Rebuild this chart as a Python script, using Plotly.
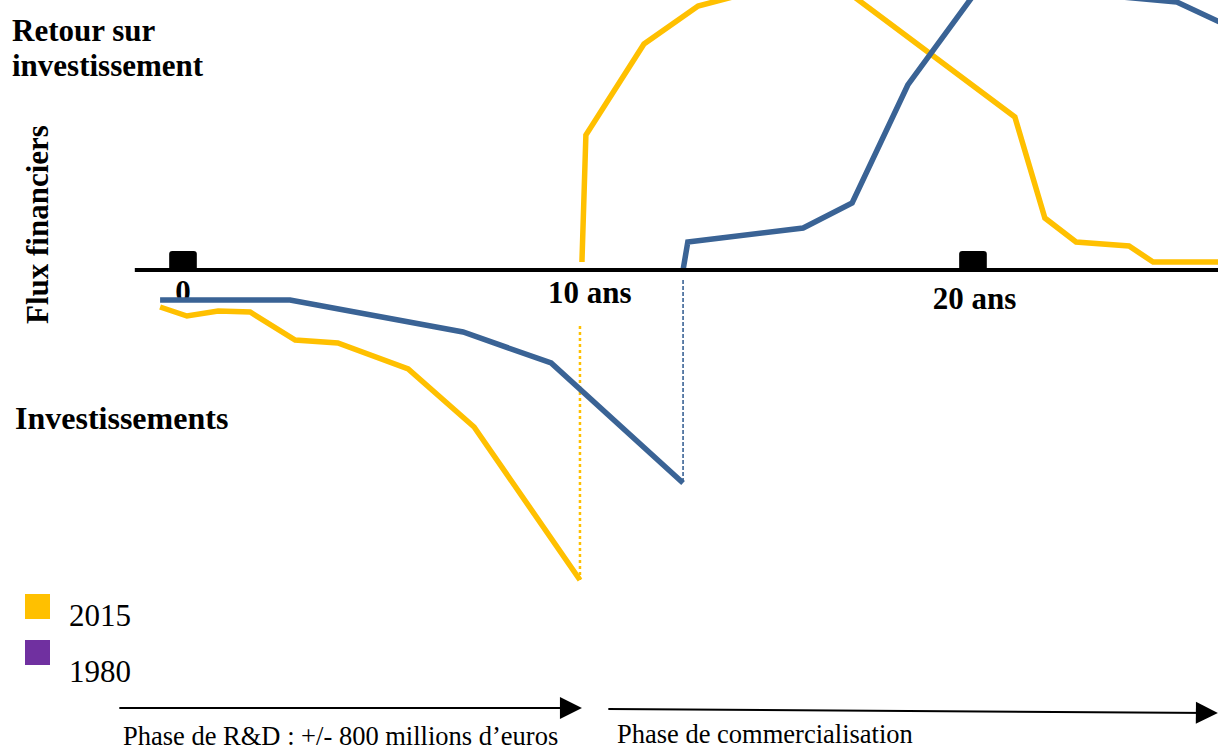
import plotly.graph_objects as go

# ---------------- data (years, financial flux in arbitrary units) ----------------
years_2015_rd = [-0.58, 0.10, 0.89, 1.70, 2.84, 3.92, 5.70, 7.37, 10.05]
flux_2015_rd = [-3.7, -4.6, -4.1, -4.2, -7.0, -7.3, -9.9, -15.7, -31.0]

years_2015_com = [10.10, 10.20, 11.67, 13.04, 15.37, 16.76, 21.06, 21.82, 22.61, 23.95, 24.56, 26.51]
flux_2015_com = [0.8, 13.5, 22.6, 26.4, 28.8, 28.0, 15.3, 5.2, 2.8, 2.4, 0.8, 0.8]

years_1980_rd = [-0.58, 2.71, 7.09, 9.32, 12.66]
flux_1980_rd = [-3.0, -3.0, -6.2, -9.3, -21.3]

years_1980_com = [12.66, 12.78, 15.70, 16.94, 18.35, 20.48, 23.22, 25.16, 26.51]
flux_1980_com = [0.0, 2.8, 4.2, 6.7, 18.5, 30.0, 27.5, 26.8, 24.3]

launch_2015_year = 10.05
launch_2015_flux = [-5.6, -31.0]
launch_1980_year = 12.66
launch_1980_flux = [-1.0, -21.3]

tick_mark_years = [0, 20]
tick_label_years = [0, 10.30, 20.04]
tick_label_flux = [-2.4, -2.5, -3.1]
tick_labels = ["0", "10 ans", "20 ans"]

legend_labels = ["2015", "1980"]
legend_colors = ["#FFC000", "#7030A0"]

# ---------------- styling ----------------
W, H = 1218, 751
X_RANGE = [-4.633, 26.203]
Y_RANGE = [-48.1, 27.0]
YELLOW = "#FFC000"
BLUE = "#3A6395"
SERIF = "Liberation Serif, Times New Roman, serif"


def pxx(x):
    return x / W


def pxy(y):
    return 1 - y / H


fig = go.Figure()

# tick labels first so the curves are drawn over them
fig.add_trace(go.Scatter(
    x=tick_label_years, y=tick_label_flux, text=tick_labels, mode="text",
    textposition="middle center",
    textfont=dict(family=SERIF, size=31, color="black", weight="bold"),
    hoverinfo="skip", showlegend=False))

fig.add_trace(go.Scatter(
    x=[launch_2015_year] * 2, y=launch_2015_flux, mode="lines",
    line=dict(color=YELLOW, width=2.5, dash="dot"), showlegend=False))
fig.add_trace(go.Scatter(
    x=[launch_1980_year] * 2, y=launch_1980_flux, mode="lines",
    line=dict(color=BLUE, width=1.6, dash="4px,2px"), showlegend=False))

for xs, ys, col in [(years_2015_rd, flux_2015_rd, YELLOW),
                    (years_2015_com, flux_2015_com, YELLOW),
                    (years_1980_rd, flux_1980_rd, BLUE),
                    (years_1980_com, flux_1980_com, BLUE)]:
    fig.add_trace(go.Scatter(x=xs, y=ys, mode="lines",
                             line=dict(color=col, width=5.5),
                             showlegend=False, hoverinfo="skip"))

shapes = []
# time axis
shapes.append(dict(type="line", xref="x", yref="y", x0=-1.22, x1=26.4, y0=0, y1=0,
                   line=dict(color="black", width=4), layer="above"))
# tick marks (rounded black blocks)
for t in tick_mark_years:
    x0, x1, y0, y1 = t - 0.35, t + 0.35, 0, 1.9
    rx, ry = 0.08, 0.3
    path = (f"M {x0},{y0} L {x0},{y1-ry} Q {x0},{y1} {x0+rx},{y1} "
            f"L {x1-rx},{y1} Q {x1},{y1} {x1},{y1-ry} L {x1},{y0} Z")
    shapes.append(dict(type="path", xref="x", yref="y", path=path,
                       fillcolor="black", line=dict(color="black", width=0), layer="above"))
# legend squares
for i, c in enumerate(legend_colors):
    top = 594 + i * 46
    shapes.append(dict(type="rect", xref="paper", yref="paper",
                       x0=pxx(25), x1=pxx(50), y0=pxy(top + 25), y1=pxy(top),
                       fillcolor=c, line=dict(width=0)))

annotations = []
bold = dict(family=SERIF, size=31, color="black", weight="bold")
annotations.append(dict(text="Retour sur", x=pxx(10), y=pxy(31), xref="paper", yref="paper",
                        xanchor="left", yanchor="middle", showarrow=False, font=bold))
annotations.append(dict(text="investissement", x=pxx(10), y=pxy(66), xref="paper", yref="paper",
                        xanchor="left", yanchor="middle", showarrow=False, font=bold))
annotations.append(dict(text="Investissements", x=pxx(13), y=pxy(418), xref="paper", yref="paper",
                        xanchor="left", yanchor="middle", showarrow=False,
                        font=dict(family=SERIF, size=32, color="black", weight="bold")))
annotations.append(dict(text="Flux financiers", x=pxx(37), y=pxy(225), xref="paper", yref="paper",
                        xanchor="center", yanchor="middle", textangle=-90, showarrow=False, font=bold))
# legend labels
for i, lab in enumerate(legend_labels):
    annotations.append(dict(text=lab, x=pxx(67), y=pxy(615 + i * 56), xref="paper", yref="paper",
                            xanchor="left", yanchor="middle", showarrow=False,
                            font=dict(family=SERIF, size=31, color="black")))
# phase arrows
annotations.append(dict(x=10.10, y=-43.8, ax=-1.65, ay=-43.8, xref="x", yref="y",
                        axref="x", ayref="y", showarrow=True, arrowhead=2, arrowsize=2.2,
                        arrowwidth=2, arrowcolor="black", text=""))
annotations.append(dict(x=26.2, y=-44.3, ax=10.73, ay=-43.9, xref="x", yref="y",
                        axref="x", ayref="y", showarrow=True, arrowhead=2, arrowsize=2.2,
                        arrowwidth=2, arrowcolor="black", text=""))
annotations.append(dict(text="Phase de R&amp;D : +/- 800 millions d’euros", x=pxx(121), y=pxy(736),
                        xref="paper", yref="paper", xanchor="left", yanchor="middle",
                        showarrow=False, font=dict(family=SERIF, size=26.5, color="black")))
annotations.append(dict(text="Phase de commercialisation", x=pxx(615), y=pxy(734),
                        xref="paper", yref="paper", xanchor="left", yanchor="middle",
                        showarrow=False, font=dict(family=SERIF, size=26.5, color="black")))

fig.update_layout(
    width=W, height=H, margin=dict(l=0, r=0, t=0, b=0),
    paper_bgcolor="white", plot_bgcolor="white",
    xaxis=dict(range=X_RANGE, visible=False, fixedrange=True),
    yaxis=dict(range=Y_RANGE, visible=False, fixedrange=True),
    shapes=shapes, annotations=annotations, showlegend=False,
)

fig.write_html("out.html", config={"displayModeBar": False},
               post_script="document.body.style.margin='0px';document.body.style.overflow='hidden';")
